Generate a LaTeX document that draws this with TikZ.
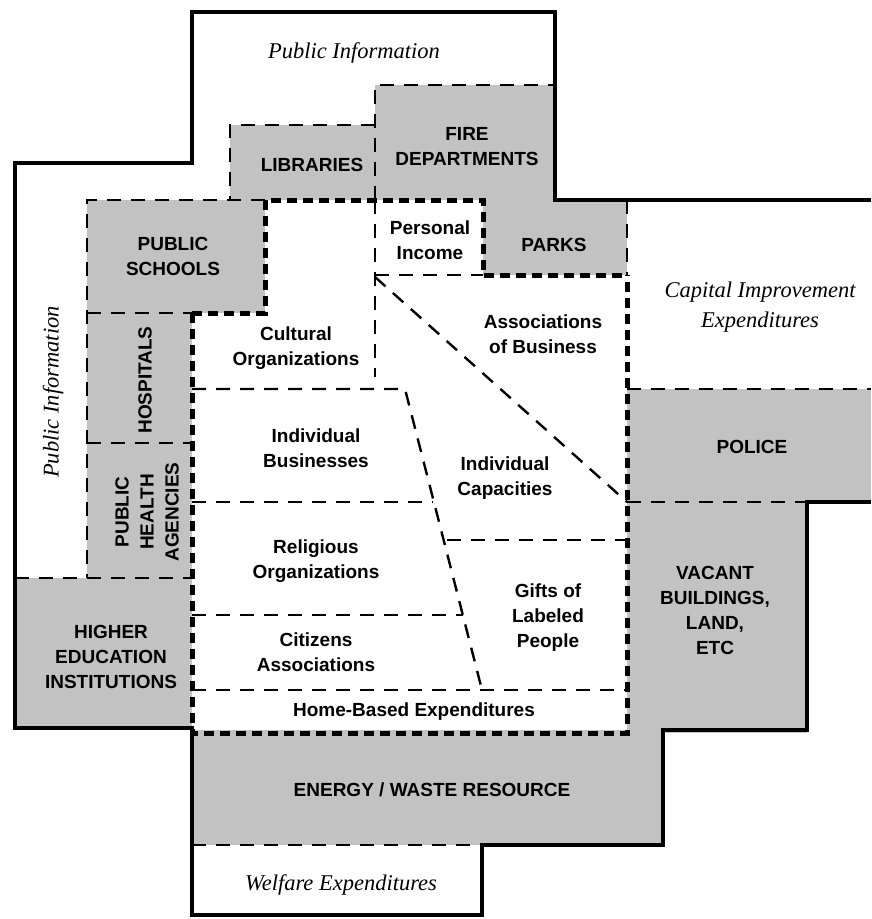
\documentclass[tikz,border=0pt]{standalone}
\usepackage{fontspec}
\setmainfont{Liberation Serif}
\setsansfont{Liberation Sans}
\tikzset{
	outer line/.style={line width=4.5pt, line join=miter},
	heavy dash/.style={line width=5pt, dash pattern=on 10pt off 6pt},
	thin dash/.style={line width=2.4pt, dash pattern=on 14pt off 10pt},
	shaded/.style={fill=black!24},
	lab/.style={font=\sffamily\bfseries\fontsize{19}{25}\selectfont, align=center, inner sep=0pt},
	ital/.style={font=\itshape\fontsize{22.5}{30}\selectfont, align=center, inner sep=0pt}
}

\begin{document}
\begin{tikzpicture}[x=1pt,y=-1pt]
	\useasboundingbox (0,0) rectangle (871,919);
	% shaded blocks
	\fill[shaded] (230,125) rectangle (375,200);
	\fill[shaded] (375,85) rectangle (555,200);
	\fill[shaded] (483,200) rectangle (627,275);
	\fill[shaded] (87,200) rectangle (265,313);
	\fill[shaded] (87,313) rectangle (192,578);
	\fill[shaded] (15,578) rectangle (192,728);
	\fill[shaded] (627,389) rectangle (871,502);
	\fill[shaded] (627,502) rectangle (807,733);
	\fill[shaded] (192,730) rectangle (663,845);

	% thin dashed borders
	\draw[thin dash] (375,200) -- (375,85) -- (555,85);
	\draw[thin dash] (375,125) -- (230,125) -- (230,200);
	\draw[thin dash] (265,200) -- (87,200) -- (87,578);
	\draw[thin dash] (87,313) -- (192,313);
	\draw[thin dash] (87,443) -- (192,443);
	\draw[thin dash] (15,578) -- (192,578);
	\draw[thin dash] (627,200) -- (627,275);
	\draw[thin dash] (627,389) -- (871,389);
	\draw[thin dash] (627,502) -- (807,502);
	\draw[thin dash] (192,845) -- (482,845);
	% inner sections
	\draw[thin dash] (375,200) -- (375,377);
	\draw[thin dash] (375,275) -- (483,275);
	\draw[thin dash] (375,277) -- (627,502);
	\draw[thin dash] (192,389) -- (405,389) -- (482,690);
	\draw[thin dash] (192,502) -- (433,502);
	\draw[thin dash] (192,615) -- (463,615);
	\draw[thin dash] (447,540) -- (627,540);
	\draw[thin dash] (192,690) -- (627,690);

	% heavy dashed borders
	\draw[heavy dash] (192,313) -- (265,313) -- (265,200) -- (483,200) -- (483,275) -- (627,275);
	\draw[heavy dash] (192,313) -- (192,733) -- (627,733) -- (627,275);

	% outer border
	\draw[outer line] (871,200) -- (555,200) -- (555,12) -- (192,12) -- (192,163) -- (15,163)
		-- (15,728) -- (192,728) -- (192,915) -- (482,915) -- (482,845) -- (663,845)
		-- (663,730) -- (807,730) -- (807,502) -- (871,502);

	% labels
	\node[ital] (pubtop) at (354,53) {Public Information};
	\node[ital, rotate=90] (publeft) at (53,392) {Public Information};
	\node[ital] (capital) at (760,307) {Capital Improvement\\Expenditures};
	\node[ital] (welfare) at (341,885) {Welfare Expenditures};
	\node[lab] (libraries) at (312,165) {LIBRARIES};
	\node[lab] (fire) at (467,147) {FIRE\\DEPARTMENTS};
	\node[lab] (income) at (430,240) {Personal\\Income};
	\node[lab] (parks) at (554,245) {PARKS};
	\node[lab] (schools) at (173,256) {PUBLIC\\SCHOOLS};
	\node[lab, rotate=90] (hospitals) at (145,380) {HOSPITALS};
	\node[lab, rotate=90] (health) at (147,512) {PUBLIC\\HEALTH\\AGENCIES};
	\node[lab] (cultural) at (296,348) {Cultural\\Organizations};
	\node[lab] (assoc) at (543,334) {Associations\\of Business};
	\node[lab] (business) at (316,448) {Individual\\Businesses};
	\node[lab] (capacities) at (505,478) {Individual\\Capacities};
	\node[lab] (religious) at (316,561) {Religious\\Organizations};
	\node[lab] (gifts) at (548,618) {Gifts of\\Labeled\\People};
	\node[lab] (citizens) at (316,652) {Citizens\\Associations};
	\node[lab] (home) at (414,712) {Home-Based Expenditures};
	\node[lab] (energy) at (432,790) {ENERGY / WASTE RESOURCE};
	\node[lab] (higher) at (111,657) {HIGHER\\EDUCATION\\INSTITUTIONS};
	\node[lab] (police) at (752,447) {POLICE};
	\node[lab] (vacant) at (715,610) {VACANT\\BUILDINGS,\\LAND,\\ETC};
\end{tikzpicture}
\end{document}
